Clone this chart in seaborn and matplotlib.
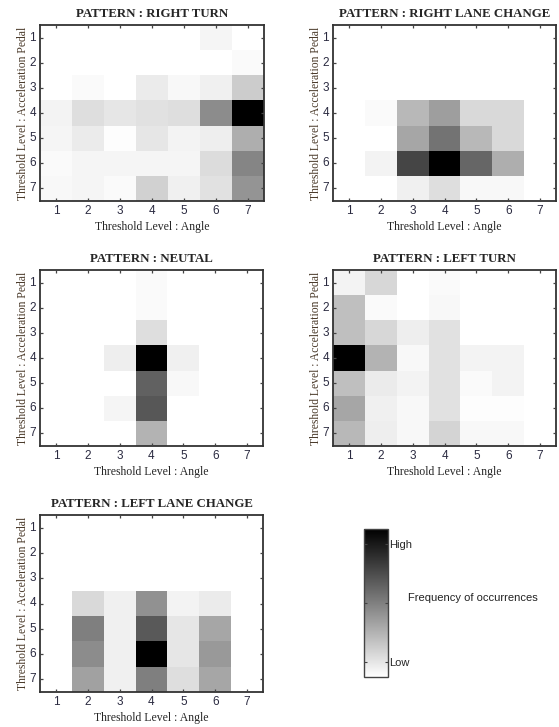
"""Frequency-of-occurrence maps for five driving patterns (angle x acceleration pedal thresholds)."""
import numpy as np
import pandas as pd
import matplotlib
matplotlib.use("Agg")
import matplotlib.pyplot as plt
from matplotlib.cm import ScalarMappable
from matplotlib.colors import Normalize
import seaborn as sns

sns.set_theme(style="white")

LEVELS = [1, 2, 3, 4, 5, 6, 7]

# rows = acceleration pedal level 1..7, cols = angle level 1..7 (relative frequency, 0..1)
RIGHT_TURN = [
    [0.00, 0.00, 0.00, 0.00, 0.00, 0.04, 0.00],
    [0.00, 0.00, 0.00, 0.00, 0.00, 0.00, 0.02],
    [0.00, 0.02, 0.00, 0.08, 0.03, 0.06, 0.20],
    [0.05, 0.13, 0.10, 0.12, 0.13, 0.45, 1.00],
    [0.04, 0.08, 0.01, 0.10, 0.05, 0.07, 0.32],
    [0.02, 0.04, 0.04, 0.04, 0.04, 0.14, 0.48],
    [0.03, 0.04, 0.02, 0.18, 0.06, 0.12, 0.42],
]
RIGHT_LANE = [
    [0.00, 0.00, 0.00, 0.00, 0.00, 0.00, 0.00],
    [0.00, 0.00, 0.00, 0.00, 0.00, 0.00, 0.00],
    [0.00, 0.00, 0.00, 0.00, 0.00, 0.00, 0.00],
    [0.00, 0.02, 0.28, 0.38, 0.15, 0.15, 0.00],
    [0.00, 0.00, 0.35, 0.55, 0.28, 0.15, 0.00],
    [0.00, 0.05, 0.73, 1.00, 0.60, 0.32, 0.00],
    [0.00, 0.00, 0.06, 0.13, 0.03, 0.03, 0.00],
]
NEUTRAL = [
    [0.00, 0.00, 0.00, 0.02, 0.00, 0.00, 0.00],
    [0.00, 0.00, 0.00, 0.02, 0.00, 0.00, 0.00],
    [0.00, 0.00, 0.00, 0.13, 0.00, 0.00, 0.00],
    [0.00, 0.00, 0.07, 1.00, 0.06, 0.00, 0.00],
    [0.00, 0.00, 0.00, 0.62, 0.03, 0.00, 0.00],
    [0.00, 0.00, 0.04, 0.66, 0.00, 0.00, 0.00],
    [0.00, 0.00, 0.00, 0.30, 0.00, 0.00, 0.00],
]
LEFT_TURN = [
    [0.05, 0.16, 0.00, 0.02, 0.00, 0.00, 0.00],
    [0.25, 0.02, 0.00, 0.03, 0.00, 0.00, 0.00],
    [0.25, 0.16, 0.07, 0.12, 0.00, 0.00, 0.00],
    [1.00, 0.30, 0.03, 0.12, 0.05, 0.05, 0.00],
    [0.25, 0.08, 0.05, 0.12, 0.02, 0.05, 0.00],
    [0.35, 0.06, 0.03, 0.12, 0.01, 0.01, 0.00],
    [0.28, 0.07, 0.03, 0.17, 0.03, 0.03, 0.00],
]
LEFT_LANE = [
    [0.00, 0.00, 0.00, 0.00, 0.00, 0.00, 0.00],
    [0.00, 0.00, 0.00, 0.00, 0.00, 0.00, 0.00],
    [0.00, 0.00, 0.00, 0.00, 0.00, 0.00, 0.00],
    [0.00, 0.15, 0.06, 0.43, 0.05, 0.08, 0.00],
    [0.00, 0.50, 0.06, 0.65, 0.10, 0.35, 0.00],
    [0.00, 0.45, 0.06, 1.00, 0.10, 0.40, 0.00],
    [0.00, 0.37, 0.06, 0.50, 0.13, 0.35, 0.00],
]

PANELS = [
    ("PATTERN : RIGHT TURN", RIGHT_TURN),
    ("PATTERN : RIGHT LANE CHANGE", RIGHT_LANE),
    ("PATTERN : NEUTAL", NEUTRAL),
    ("PATTERN : LEFT TURN", LEFT_TURN),
    ("PATTERN : LEFT LANE CHANGE", LEFT_LANE),
]

W, H = 559, 727
# axes boxes in pixel coords (left, top, right, bottom)
BOXES = [
    (40, 25, 264, 201),
    (333, 25, 556, 201),
    (40, 270, 263, 446),
    (333, 270, 556, 446),
    (40, 515, 263, 692),
]

SERIF = ["Liberation Serif", "DejaVu Serif"]
SANS = ["Liberation Sans", "DejaVu Sans"]
TICK_COL = "#2a2a40"
CMAP = "gray_r"  # linear white -> black


def px_axes(fig, l, t, r, b):
    return fig.add_axes([l / W, 1 - b / H, (r - l) / W, (b - t) / H])


fig = plt.figure(figsize=(W / 100, H / 100), dpi=100)

for (title, grid), box in zip(PANELS, BOXES):
    ax = px_axes(fig, *box)
    df = pd.DataFrame(grid, index=LEVELS, columns=LEVELS)
    sns.heatmap(df, ax=ax, cmap=CMAP, vmin=0, vmax=1, cbar=False, square=False)
    ax.set_axisbelow(False)  # ticks on top of the cells
    for s in ax.spines.values():
        s.set_visible(True)
        s.set_color("#333333")
        s.set_linewidth(1.3)
    ax.tick_params(axis="both", direction="in", length=2.5, width=0.9, color="#444444",
                   bottom=True, left=True, top=True, right=True,
                   labelsize=8.5, labelcolor=TICK_COL, pad=3)
    ax.set_xticklabels(LEVELS, rotation=0, family=SANS)
    ax.set_yticklabels(LEVELS, rotation=0, family=SANS)
    ax.set_title(title, family=SERIF, fontweight="bold", fontsize=9.3, pad=6)
    ax.set_xlabel("Threshold Level : Angle", family=SERIF, fontsize=8.5, labelpad=3)
    ax.set_ylabel("Threshold Level : Acceleration Pedal", family=SERIF, fontsize=8.4,
                  color="#4a3a2a", labelpad=0.5)

# colour scale legend
cax = px_axes(fig, 364, 529, 388, 677)
cb = fig.colorbar(ScalarMappable(norm=Normalize(0, 1), cmap=CMAP), cax=cax)
cb.set_ticks([0.1, 0.5, 0.9])
cb.set_ticklabels(["Low", "", "High"])
cb.outline.set_edgecolor("#444444")
cb.outline.set_linewidth(1.0)
cax.set_axisbelow(False)
cax.tick_params(direction="in", length=2, width=0.8, color="#444444", left=True, right=True,
                labelsize=8, pad=1)
for lab in cax.get_yticklabels():
    lab.set_family(SANS)
fig.text(408 / W, 1 - 598 / H, "Frequency of occurrences", family=SANS, fontsize=8,
         color="#222222", va="center", ha="left")

plt.savefig("out.png", dpi=100)
plt.close()
